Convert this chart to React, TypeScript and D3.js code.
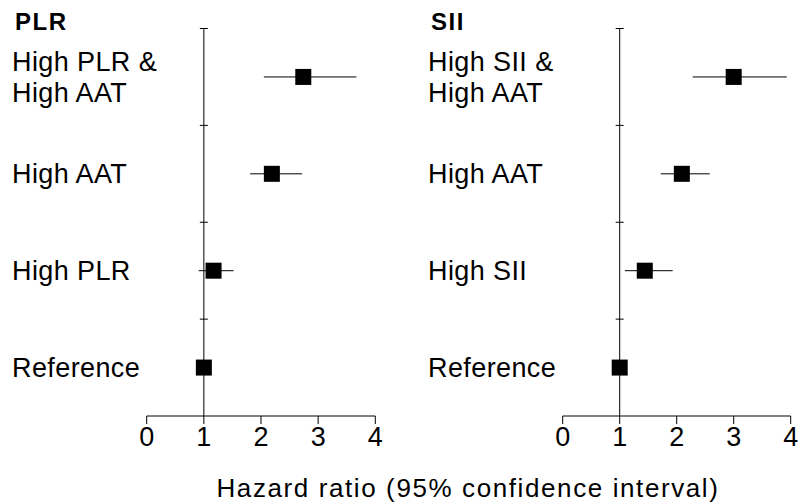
import React from "react";
import * as d3 from "d3";

// rows listed top to bottom
const plrLabels = [["High PLR &", "High AAT"], ["High AAT"], ["High PLR"], ["Reference"]];
const plrHR = [2.74, 2.19, 1.17, 1.0];
const plrLower = [2.05, 1.81, 0.91, 1.0];
const plrUpper = [3.67, 2.72, 1.52, 1.0];

const siiLabels = [["High SII &", "High AAT"], ["High AAT"], ["High SII"], ["Reference"]];
const siiHR = [3.0, 2.09, 1.44, 1.0];
const siiLower = [2.28, 1.72, 1.09, 1.0];
const siiUpper = [3.93, 2.58, 1.93, 1.0];

const xTicks = [0, 1, 2, 3, 4];

const width = 798;
const height = 503;
const font = "Liberation Sans, Arial, sans-serif";

const yScale = d3
  .scaleBand<number>()
  .domain([0, 1, 2, 3])
  .range([28.5, 416]);

const Panel = ({ title, labels, hr, lower, upper, labelX, range }) => {
  const x = d3.scaleLinear().domain([0, 4]).range(range);
  const axisY = yScale.range()[1];
  const bw = yScale.bandwidth();
  const boundaries = [0, 1, 2, 3].map((i) => yScale(i));

  return (
    <g>
      <text
        x={labelX + 3}
        y={30}
        fontFamily={font}
        fontWeight="bold"
        fontSize={24}
        letterSpacing={1.5}
      >
        {title}
      </text>
      {labels.map((lines, i) => {
        const cy = yScale(i) + bw / 2;
        const lh = 31;
        const start = cy - ((lines.length - 1) * lh) / 2 + 9.5;
        return (
          <text key={i} fontFamily={font} fontSize={27} letterSpacing={0.4} fill="#000">
            {lines.map((l, j) => (
              <tspan key={j} x={labelX} y={start + j * lh}>
                {l}
              </tspan>
            ))}
          </text>
        );
      })}

      {/* reference line at HR = 1 */}
      <line x1={x(1)} x2={x(1)} y1={boundaries[0]} y2={axisY} stroke="#000" />
      {boundaries.map((b, i) => (
        <line key={i} x1={x(1) - 4} x2={x(1) + 4} y1={b} y2={b} stroke="#000" />
      ))}

      {/* x axis */}
      <line x1={x(0)} x2={x(4)} y1={axisY} y2={axisY} stroke="#000" />
      {xTicks.map((t) => (
        <g key={t}>
          <line x1={x(t)} x2={x(t)} y1={axisY} y2={axisY + 8} stroke="#000" />
          <text
            x={x(t)}
            y={axisY + 30}
            textAnchor="middle"
            fontFamily={font}
            fontSize={27}
          >
            {t}
          </text>
        </g>
      ))}

      {hr.map((v, i) => {
        const cy = yScale(i) + bw / 2;
        return (
          <g key={i}>
            <line x1={x(lower[i])} x2={x(upper[i])} y1={cy} y2={cy} stroke="#000" />
            <rect x={x(v) - 8} y={cy - 8} width={16} height={16} fill="#000" />
          </g>
        );
      })}
    </g>
  );
};

export default function App() {
  return (
    <svg
      width={width}
      height={height}
      style={{ position: "absolute", left: 0, top: 0, background: "#fff" }}
    >
      <Panel
        title="PLR"
        labels={plrLabels}
        hr={plrHR}
        lower={plrLower}
        upper={plrUpper}
        labelX={12}
        range={[146.7, 375.3]}
      />
      <Panel
        title="SII"
        labels={siiLabels}
        hr={siiHR}
        lower={siiLower}
        upper={siiUpper}
        labelX={428}
        range={[562.7, 790.7]}
      />
      <text
        x={468}
        y={497}
        textAnchor="middle"
        fontFamily={font}
        fontSize={26}
        letterSpacing={1.6}
      >
        Hazard ratio (95% confidence interval)
      </text>
    </svg>
  );
}
